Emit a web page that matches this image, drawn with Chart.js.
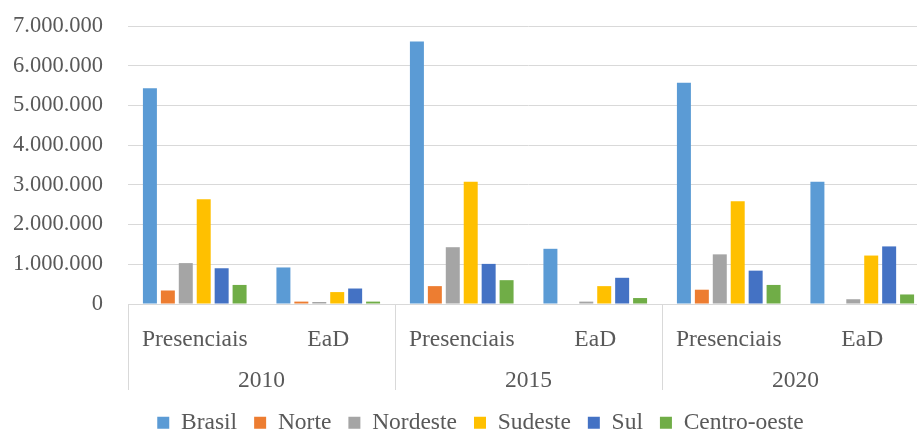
<!DOCTYPE html>
<html>
<head>
<meta charset="utf-8">
<script src="https://cdn.jsdelivr.net/npm/chart.js@4/dist/chart.umd.min.js"></script>
<style>
  html, body { margin: 0; padding: 0; overflow: hidden; background: #fff; }
  #wrap { width: 929px; height: 432px; position: relative; }
</style>
</head>
<body>
<div id="wrap"><canvas id="matriculas"></canvas></div>
<script>
// categorias do eixo (modalidade) e anos
const categories = ['Presenciais', 'EaD', 'Presenciais', 'EaD', 'Presenciais', 'EaD'];
const years = ['2010', '2015', '2020'];

// matriculas por regiao: 2010 P, 2010 EaD, 2015 P, 2015 EaD, 2020 P, 2020 EaD
const brasil      = [5430000, 920000, 6610000, 1390000, 5570000, 3080000];
const norte       = [340000, 60000, 450000, 0, 360000, 0];
const nordeste    = [1030000, 50000, 1430000, 60000, 1250000, 120000];
const sudeste     = [2640000, 300000, 3080000, 450000, 2590000, 1220000];
const sul         = [900000, 390000, 1010000, 660000, 840000, 1450000];
const centroOeste = [480000, 60000, 600000, 150000, 480000, 240000];

const yTicks = [0, 1000000, 2000000, 3000000, 4000000, 5000000, 6000000, 7000000];

const serif = "'Liberation Serif', 'Times New Roman', serif";
const textColor = '#595959';
const lineColor = '#d9d9d9';

Chart.defaults.font.family = serif;
Chart.defaults.color = textColor;

function fmt(v) {
    return String(v).replace(/\B(?=(\d{3})+(?!\d))/g, '.');
}

function bars(label, data, color) {
    return { label: label, data: data, backgroundColor: color, borderWidth: 0 };
}

// linhas verticais que separam os anos abaixo do eixo
const yearSeparators = {
    id: 'yearSeparators',
    afterLayout(chart) {
        // a legenda do original fica um pouco a direita do centro
        chart.legend.left += 10;
        chart.legend.right += 10;
    },
    afterDraw(chart) {
        const x = chart.scales.x;
        const x2 = chart.scales.x2;
        const step = x.getPixelForValue(1) - x.getPixelForValue(0);
        const c = chart.ctx;
        c.save();
        c.strokeStyle = lineColor;
        c.lineWidth = 1;
        for (let i = 0; i <= years.length; i++) {
            const px = Math.round(x.getPixelForValue(i * 2) - step / 2) + 0.5;
            c.beginPath();
            c.moveTo(px, chart.chartArea.bottom);
            c.lineTo(px, x2.bottom - 4);
            c.stroke();
        }
        c.restore();
    }
};

document.addEventListener('DOMContentLoaded', function () {
    const ctx = document.getElementById('matriculas').getContext('2d');
    new Chart(ctx, {
        type: 'bar',
        data: {
            labels: categories,
            datasets: [
                bars('Brasil', brasil, '#5b9bd5'),
                bars('Norte', norte, '#ed7d31'),
                bars('Nordeste', nordeste, '#a5a5a5'),
                bars('Sudeste', sudeste, '#ffc000'),
                bars('Sul', sul, '#4472c4'),
                bars('Centro-oeste', centroOeste, '#70ad47')
            ]
        },
        options: {
            responsive: true,
            maintainAspectRatio: false,
            animation: false,
            categoryPercentage: 0.806,
            barPercentage: 0.78,
            layout: { padding: { top: 26, left: 12, right: 0, bottom: 0 } },
            scales: {
                x: {
                    offset: true,
                    grid: { display: false },
                    border: { display: true, color: lineColor },
                    afterFit: axis => { axis.height = 46; },
                    ticks: {
                        color: textColor,
                        padding: 14,
                        maxRotation: 0,
                        autoSkip: false,
                        font: { family: serif, size: 23.5 }
                    }
                },
                x2: {
                    type: 'category',
                    labels: years,
                    position: 'bottom',
                    weight: 1,
                    offset: true,
                    grid: { display: false },
                    border: { display: false },
                    afterFit: axis => { axis.height = 44; },
                    ticks: {
                        color: textColor,
                        padding: 9,
                        maxRotation: 0,
                        autoSkip: false,
                        font: { family: serif, size: 23.5 }
                    }
                },
                y: {
                    min: 0,
                    max: 7000000,
                    afterBuildTicks: axis => { axis.ticks = yTicks.map(v => ({ value: v })); },
                    afterFit: axis => {
                        axis.width = 116;
                        axis.paddingTop = 13;
                        axis.paddingBottom = 13;
                    },
                    grid: { color: lineColor, drawTicks: false },
                    border: { display: false },
                    ticks: {
                        color: textColor,
                        padding: 25,
                        font: { family: serif, size: 22.5 },
                        callback: v => fmt(v)
                    }
                }
            },
            plugins: {
                tooltip: { enabled: false },
                legend: {
                    position: 'bottom',
                    maxHeight: 38,
                    labels: {
                        color: textColor,
                        boxWidth: 12,
                        boxHeight: 12,
                        padding: 17,
                        font: { family: serif, size: 23.5 }
                    }
                }
            }
        },
        plugins: [yearSeparators]
    });
});
</script>
</body>
</html>
